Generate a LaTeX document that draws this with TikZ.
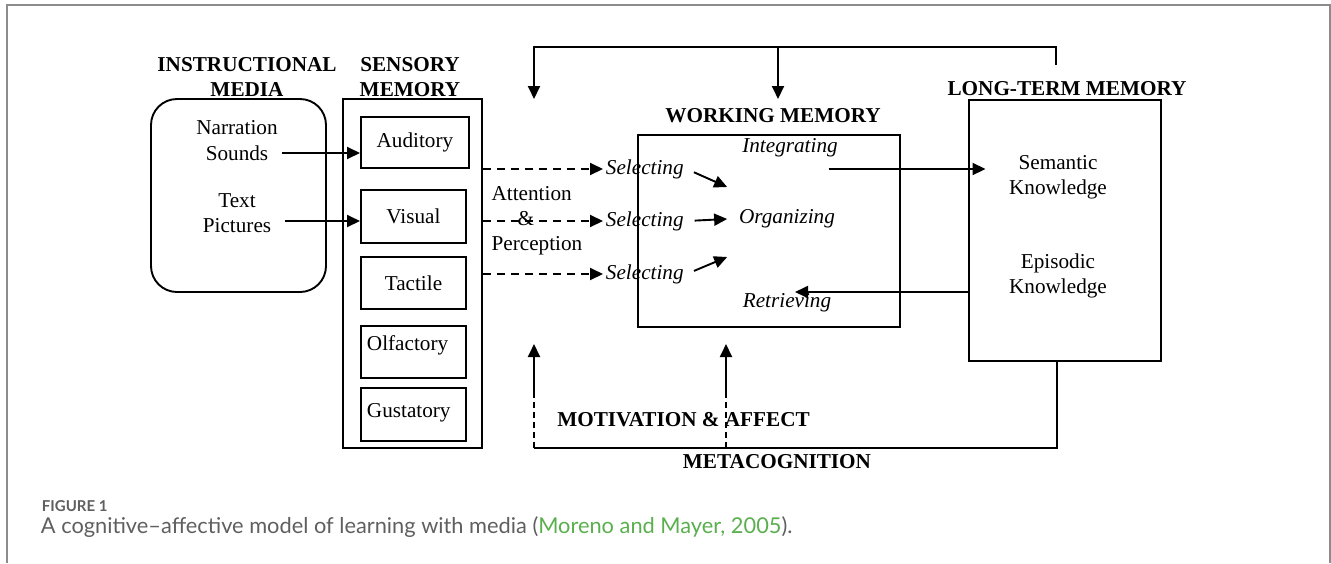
\documentclass[tikz,border=0pt]{standalone}
\usepackage{fontspec}
\setmainfont{Liberation Serif}
\newfontfamily\capfont{Lato}
\usetikzlibrary{arrows.meta,positioning}
\definecolor{linkgreen}{HTML}{5AAF4E}
\definecolor{capgray}{HTML}{5F5F5F}
\definecolor{framegray}{HTML}{8C8C8C}

\begin{document}
\begin{tikzpicture}[x=0.5pt,y=-0.5pt,line width=0.95pt,font=\fontsize{10.6}{12.5}\selectfont]
      \tikzset{headtxt/.style={font=\fontsize{10.6}{12.5}\selectfont\bfseries,align=center},
        proc/.style={font=\fontsize{10.6}{12.5}\selectfont\itshape,inner sep=1pt},
        sbox/.style={draw,anchor=west,inner sep=0pt},
        arr/.style={-{Triangle[length=6.5pt,width=6pt]}},
        dasharr/.style={arr,dash pattern=on 4pt off 3pt}}
        \useasboundingbox (0,0) rectangle (1331,563);
        \draw[framegray,line width=1pt] (7,563)--(7,5)--(1330,5)--(1330,563);

        % instructional media
        \node[draw,rounded corners=13pt,minimum width=87.5pt,minimum height=96.5pt] (media) at (238.5,195.5) {};
        \node[headtxt] (medt) at (247,77) {INSTRUCTIONAL\\MEDIA};
        \node (narr) at (237,128) {Narration};
        \node (snd) at (237,153) {Sounds};
        \node (txt) at (237,201) {Text};
        \node (pic) at (237,226) {Pictures};

        % sensory memory
        \node[draw,minimum width=69.5pt,minimum height=174.5pt] (sens) at (412.5,273.5) {};
        \node[headtxt] (senst) at (410,77) {SENSORY\\MEMORY};
        \foreach \n/\y/\w/\h in {aud/142.5/54pt/25.5pt,vis/216.5/52.5pt/26.5pt,tac/283/52.5pt/26pt,olf/352/52.5pt/26pt,gus/414.5/52.5pt/26.5pt}
        \node[sbox,minimum width=\w,minimum height=\h] (\n) at (360,\y) {};
        \node (audt) at (aud) {Auditory};
        \node (vist) at (vis) {Visual};
        \node (tact) at (tac) {Tactile};
        \node[anchor=north west,inner sep=3pt] (olft) at ([yshift=-1.8pt]olf.north west) {Olfactory};
        \node[anchor=west,inner sep=3pt] (gust) at ([yshift=1pt]gus.west) {Gustatory};
        \draw[arr,shorten <=3pt] (snd.east) -- (snd.east -| aud.west);
        \draw[arr,shorten <=3pt] ([yshift=2.5pt]pic.east) -- ([yshift=2.5pt]pic.east -| vis.west);

        % attention and selecting
        \node[align=left,anchor=west] (attn) at (484,221) {Attention\\\hspace*{13pt}\&\\Perception};
        \foreach \i/\y in {1/169,2/221,3/274}
        { \node[proc,anchor=west] (sel\i) at (603,\y) {Selecting};
          \draw[dasharr] (sel\i.west -| sens.east) -- (sel\i.west); }

        % working memory
        \node[draw,minimum width=131pt,minimum height=96pt] (wm) at (769,231) {};
        \node[headtxt] (wmt) at (773,116) {WORKING MEMORY};
        \node[proc] (integ) at (790,148) {Integrating};
        \node[proc] (organ) at (787,219) {Organizing};
        \node[proc] (retr) at (787,303) {Retrieving};
        \draw[arr,shorten <=4pt] (sel1.east) -- ([shift={(-4.5pt,16pt)}]organ.west);
        \draw[arr,shorten <=4pt] (sel2.east) -- ([xshift=-4.5pt]organ.west);
        \draw[arr,shorten <=4pt] (sel3.east) -- ([shift={(-4.5pt,-19pt)}]organ.west);

        % long-term memory
        \node[draw,minimum width=96pt,minimum height=130.5pt] (ltm) at (1065,230.5) {};
        \node[headtxt] (ltmt) at (1067,89) {LONG-TERM MEMORY};
        \node[align=center] (semk) at (1058,177.5) {Semantic\\Knowledge};
        \node[align=center] (epik) at (1058,275.5) {Episodic\\Knowledge};
        \coordinate (intout) at ([shift={(-6pt,-10.5pt)}]integ.east);
        \draw[arr,shorten >=8pt] (intout) -- (intout -| semk.west);
        \coordinate (retin) at ([shift={(4pt,5.5pt)}]retr.center);
        \draw[arr] (retin -| ltm.west) -- (retin);

        % feedback at the top
        \coordinate (fbR) at (1056,65);
        \coordinate (fbL) at (534,99);
        \coordinate (fbM) at (778,99);
        \coordinate (fbY) at (0,47);
        \draw[arr] (fbR) -- (fbR |- fbY) -- (fbL |- fbY) -- (fbL);
        \draw[arr] (fbM |- fbY) -- (fbM);

        % metacognition, motivation and affect
        \coordinate (mtL) at (534,344);
        \coordinate (mtM) at (726,344);
        \coordinate (mtY) at (0,448);
        \coordinate (dashY) at (0,397);
        \draw ([xshift=-4pt]ltm.south) -- ([xshift=-4pt]ltm.south |- mtY) -- (mtL |- mtY);
        \foreach \c in {mtL,mtM}
        { \draw[dash pattern=on 3pt off 2pt] (\c |- mtY) -- (\c |- dashY);
          \draw[arr] (\c |- dashY) -- (\c); }
        \node[headtxt] (motaff) at (683.5,420) {MOTIVATION \& AFFECT};
        \node[headtxt] (metac) at (777,462) {METACOGNITION};

        % caption
        \node[anchor=west,inner sep=0pt,text=capgray,font=\capfont\bfseries\fontsize{7.5}{9}\selectfont] (fig) at (41,506) {FIGURE 1};
        \node[anchor=west,inner sep=0pt,text=capgray,font=\capfont\fontsize{10.9}{13}\selectfont] (cap) at (40,527) {A cognitive–affective model of learning with media (\textcolor{linkgreen}{Moreno and Mayer, 2005}).};
    \end{tikzpicture}
\end{document}
